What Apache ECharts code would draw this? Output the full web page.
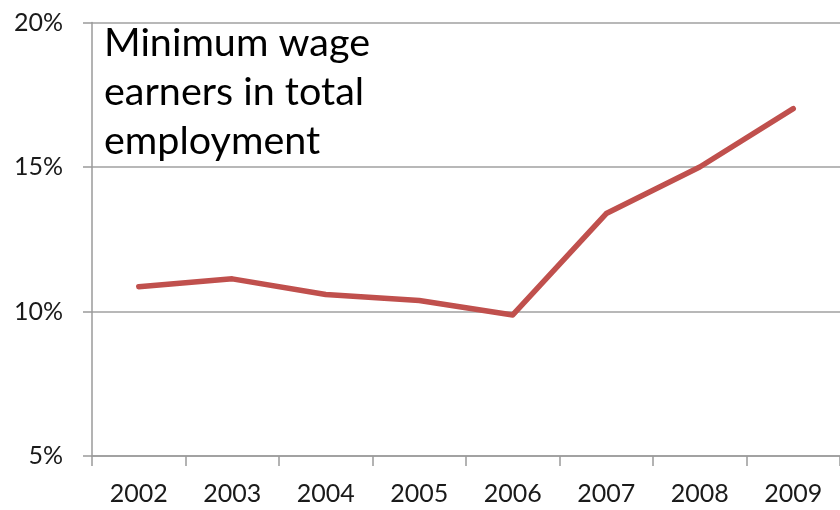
<!DOCTYPE html>
<html>
<head>
<meta charset="utf-8">
<script src="https://cdn.jsdelivr.net/npm/echarts@6/dist/echarts.min.js"></script>
<style>html,body{margin:0;padding:0;background:#fff;}#chart{width:840px;height:510px;}</style>
</head>
<body>
<div id="chart"></div>
<script>
const years = ['2002','2003','2004','2005','2006','2007','2008','2009'];
const shareMinWage = [10.86, 11.13, 10.59, 10.38, 9.88, 13.39, 15.0, 17.02];
const yTicks = [5, 10, 15, 20];
const titleLines = ['Minimum wage', 'earners in total', 'employment'];

const chart = echarts.init(document.getElementById('chart'));
chart.setOption({
  animation: false,
  backgroundColor: '#ffffff',
  title: {
    text: titleLines.join('\n'),
    left: 99,
    top: 14,
    textStyle: { fontFamily: 'Lato', fontSize: 39.5, fontWeight: 'normal', color: '#000', lineHeight: 49 }
  },
  grid: { left: 92, right: -6, top: 22.5, bottom: 54, containLabel: false },
  xAxis: {
    type: 'category',
    data: years,
    boundaryGap: true,
    axisLine: { lineStyle: { color: '#9a9a9a', width: 1.5 } },
    axisTick: { show: true, length: 10, lineStyle: { color: '#9a9a9a', width: 1.5 } },
    axisLabel: { fontFamily: 'Lato', fontSize: 25, color: '#1a1a1a', margin: 25 },
    splitLine: { show: false }
  },
  yAxis: {
    type: 'value',
    min: 5, max: 20, interval: 5,
    axisLine: { show: true, lineStyle: { color: '#9a9a9a', width: 1.5 } },
    axisTick: { show: true, length: 9, lineStyle: { color: '#9a9a9a', width: 1.5 } },
    axisLabel: { fontFamily: 'Lato', fontSize: 25, color: '#1a1a1a', margin: 29,
      formatter: v => yTicks.includes(v) ? v + '%' : '' },
    splitLine: { show: true, lineStyle: { color: '#a0a0a0', width: 1.5 } }
  },
  series: [{
    type: 'line',
    data: shareMinWage,
    symbol: 'none',
    lineStyle: { color: '#C0504D', width: 5.5, cap: 'round', join: 'round' },
    z: 3
  }]
});
</script>
</body>
</html>
